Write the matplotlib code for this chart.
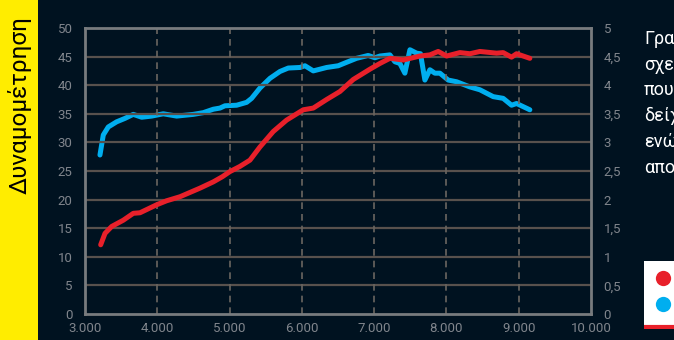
import matplotlib
matplotlib.use("Agg")
import matplotlib.pyplot as plt
from matplotlib.patches import Rectangle
from matplotlib.ticker import FixedLocator

plt.rcParams['font.family'] = ['Roboto', 'DejaVu Sans']

# ---- data ----
rpm_hp = [3217, 3277, 3369, 3530, 3668, 3761, 3992, 4130, 4314, 4590, 4775, 4900,
          5005, 5143, 5282, 5420, 5604, 5789, 6019, 6158, 6343, 6527, 6711, 6942,
          7080, 7218, 7402, 7633, 7771, 7886, 8002, 8186, 8325, 8463, 8694, 8785,
          8901, 8970, 9154]
hp = [12.1, 14.1, 15.3, 16.4, 17.6, 17.7, 19.1, 19.8, 20.5, 22.0, 23.1, 24.0,
      24.9, 25.8, 26.9, 29.2, 31.9, 33.9, 35.7, 36.0, 37.5, 38.9, 41.0, 42.8,
      43.8, 44.7, 44.4, 45.1, 45.3, 45.9, 45.1, 45.7, 45.5, 45.9, 45.6, 45.7,
      44.9, 45.5, 44.7]

rpm_kgm = [3207, 3253, 3322, 3438, 3553, 3668, 3784, 3922, 4083, 4268, 4498, 4636,
           4775, 4867, 4936, 5098, 5236, 5305, 5420, 5559, 5697, 5812, 5974, 6043,
           6158, 6343, 6503, 6619, 6757, 6918, 7010, 7080, 7218, 7287, 7356, 7425,
           7495, 7587, 7641, 7702, 7771, 7840, 7910, 8024, 8141, 8325, 8463, 8647,
           8785, 8901, 8970, 9154]
kgm = [2.78, 3.13, 3.27, 3.36, 3.42, 3.49, 3.44, 3.46, 3.50, 3.46, 3.49, 3.52,
       3.58, 3.60, 3.64, 3.65, 3.70, 3.77, 3.95, 4.12, 4.24, 4.30, 4.31, 4.34,
       4.25, 4.31, 4.34, 4.40, 4.47, 4.52, 4.48, 4.51, 4.53, 4.41, 4.38, 4.21,
       4.62, 4.56, 4.55, 4.09, 4.27, 4.21, 4.21, 4.09, 4.06, 3.97, 3.92, 3.80,
       3.77, 3.65, 3.68, 3.57]

x_ticks = [3000, 4000, 5000, 6000, 7000, 8000, 9000, 10000]
x_labels = ['3.000', '4.000', '5.000', '6.000', '7.000', '8.000', '9.000', '10.000']
left_ticks = [0, 5, 10, 15, 20, 25, 30, 35, 40, 45, 50]
right_ticks = [0, 0.5, 1, 1.5, 2, 2.5, 3, 3.5, 4, 4.5, 5]
right_labels = ['0', '0,5', '1', '1,5', '2', '2,5', '3', '3,5', '4', '4,5', '5']

side_title = 'Δυναμομέτρηση'
side_lines = ['Γραμμές', 'σχεδόν', 'που', 'δείχνει', 'ενώ', 'αποδίδει']

# ---- style ----
BG = '#001220'
RED = '#e8202a'
BLUE = '#00aeef'
YELLOW = '#ffed00'
TICK = '#80858c'
FRAME = '#787b7e'
HGRID = '#58514d'
VGRID = '#6a6560'

W, H = 674, 340
fig = plt.figure(figsize=(W / 100, H / 100), dpi=100, facecolor=BG)

# yellow side band
fig.patches.append(Rectangle((0, 0), 38 / W, 1, transform=fig.transFigure,
                             facecolor=YELLOW, edgecolor='none', zorder=0))
fig.text(20 / W, 1 - 105 / H, side_title, rotation=90, ha='center', va='center',
         fontsize=17.5, color='black')

ax = fig.add_axes([85 / W, 1 - 314 / H, (591 - 85) / W, (314 - 28) / H])
ax.set_xlim(3000, 10000)
ax.set_ylim(0, 50)

ax.xaxis.set_major_locator(FixedLocator(x_ticks))
ax.set_xticklabels(x_labels)
ax.yaxis.set_major_locator(FixedLocator(left_ticks))
ax.set_yticklabels([str(t) for t in left_ticks])

for t in left_ticks[1:-1]:
    ax.axhline(t, color=HGRID, lw=1.6, zorder=1)
for t in x_ticks[1:-1]:
    ax.axvline(t, color=VGRID, lw=1.2, ls=(0, (4, 3)), zorder=1)

for s in ax.spines.values():
    s.set_color(FRAME)
    s.set_linewidth(2)

ax.tick_params(axis='both', length=0, colors=TICK, labelsize=9.5)
ax.tick_params(axis='x', pad=6)
ax.tick_params(axis='y', pad=9)

ax.plot(rpm_hp, hp, color=RED, lw=3.6, solid_capstyle='round', zorder=4)

ax2 = ax.twinx()
ax2.set_ylim(0, 5)
ax2.yaxis.set_major_locator(FixedLocator(right_ticks))
ax2.set_yticklabels(right_labels)
ax2.tick_params(axis='y', length=0, colors=TICK, labelsize=9.5, pad=9)
for s in ax2.spines.values():
    s.set_visible(False)
ax2.plot(rpm_kgm, kgm, color=BLUE, lw=3.6, solid_capstyle='round', zorder=3)
ax2.patch.set_visible(True)
ax2.patch.set_facecolor(BG)
ax.patch.set_visible(False)
ax2.set_zorder(0)
ax.set_zorder(1)

# right side text (clipped at the figure edge, as in the original)
tax = fig.add_axes([640 / W, 0, 34 / W, 1])
tax.set_axis_off()
tax.set_xlim(0, 34)
tax.set_ylim(H, 0)
for i, line in enumerate(side_lines):
    tax.text(4, 38 + i * 26, line, color='white', fontsize=13,
             ha='left', va='center', clip_on=True)

# legend box
lax = fig.add_axes([644 / W, 1 - 329 / H, 30 / W, (329 - 261) / H])
lax.set_xlim(0, 30)
lax.set_ylim(68, 0)
lax.set_facecolor('white')
for s in lax.spines.values():
    s.set_visible(False)
lax.set_xticks([])
lax.set_yticks([])
lax.plot([19], [17], 'o', color=RED, ms=11, mec='none')
lax.plot([19], [43], 'o', color=BLUE, ms=11, mec='none')
lax.axhline(66, color=RED, lw=3)

fig.savefig('out.png', dpi=100, facecolor=BG)
